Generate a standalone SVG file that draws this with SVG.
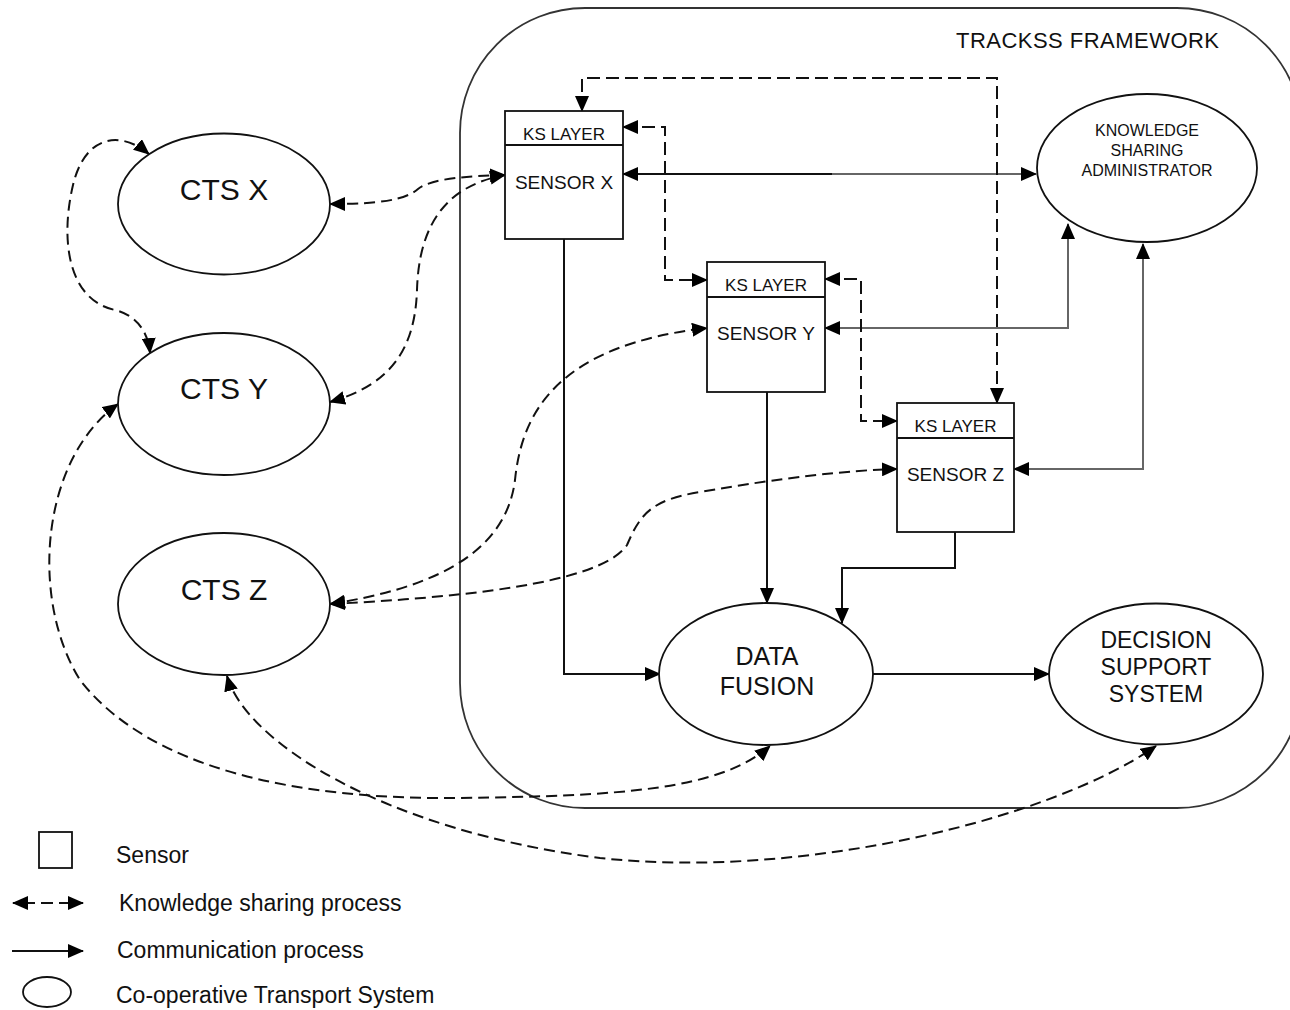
<svg xmlns="http://www.w3.org/2000/svg" width="1290" height="1010" viewBox="0 0 1290 1010">
<defs>
<marker id="ar" viewBox="0 0 16 14" refX="15" refY="7" markerWidth="16" markerHeight="14" markerUnits="userSpaceOnUse" orient="auto-start-reverse"><path d="M0,0 L16,7 L0,14 z" fill="#000"/></marker>
</defs>
<style>
text{font-family:"Liberation Sans",Arial,sans-serif;fill:#111}
.node{fill:#fff;stroke:#111;stroke-width:1.8}
.solid{fill:none;stroke:#111;stroke-width:2}
.grey{fill:none;stroke:#666;stroke-width:2}
.dash{fill:none;stroke:#111;stroke-width:2;stroke-dasharray:13 6}
.dash2{fill:none;stroke:#111;stroke-width:2;stroke-dasharray:11 6}
.both{marker-start:url(#ar);marker-end:url(#ar)}
.end{marker-end:url(#ar)}
.cts{font-size:30px;text-anchor:middle}
.ks{font-size:17px;text-anchor:middle}
.sn{font-size:19px;text-anchor:middle}
.mid{text-anchor:middle}
.leg{font-size:23px}
</style>
<rect width="1290" height="1010" fill="#fff"/>

<g id="framework">
<rect x="460" y="8" width="842" height="800" rx="125" ry="125" fill="none" stroke="#333" stroke-width="1.8"/>
<text x="956" y="48" font-size="22" textLength="263">TRACKSS FRAMEWORK</text>
</g>

<g id="connectors">
<path class="solid" d="M623,174 L832,174" marker-start="url(#ar)"/>
<path class="grey" d="M832,174 L1036,174" marker-end="url(#ar)"/>
<path class="grey both" d="M825,328 L1068,328 L1068,224"/>
<path class="grey both" d="M1014,469 L1143,469 L1143,244"/>
<path class="solid end" d="M564,239 L564,674 L660,674"/>
<path class="solid end" d="M767,392 L767,603"/>
<path class="solid end" d="M955,532 L955,568 L842,568 L842,623"/>
<path class="solid end" d="M873,674 L1049,674"/>
<path class="dash both" d="M582,111 L582,78 L997,78 L997,403"/>
<path class="dash both" d="M623,127 L665,127 L665,280 L707,280"/>
<path class="dash both" d="M825,279 L861,279 L861,421 L897,421"/>
<path class="dash2 both" d="M330,204 C380,204 405,200 418,189 C432,178 470,176 505,175"/>
<path class="dash2 both" d="M330,402 C390,385 415,350 417,290 C419,220 450,185 505,175"/>
<path class="dash2 both" d="M149,154 C120,130 85,135 73,185 C60,240 68,300 115,310 C135,315 148,330 150,353"/>
<path class="dash2 both" d="M118,404 C40,460 30,600 80,680 C150,770 300,800 460,798 C620,796 720,790 770,746"/>
<path class="dash2 both" d="M227,676 C245,740 380,830 600,858 C800,880 1050,820 1156,746"/>
<path class="dash2 both" d="M330,604 C420,590 505,560 515,480 C522,410 560,345 707,328"/>
<path class="dash2 both" d="M330,604 C450,598 600,585 627,545 C640,515 650,500 700,492 C780,478 850,470 897,469"/>
</g>

<g id="cts-x"><ellipse class="node" cx="224" cy="204" rx="106" ry="70.5"/><text class="cts" x="224" y="200">CTS X</text></g>
<g id="cts-y"><ellipse class="node" cx="224" cy="404" rx="106" ry="71"/><text class="cts" x="224" y="399">CTS Y</text></g>
<g id="cts-z"><ellipse class="node" cx="224" cy="604" rx="106" ry="71"/><text class="cts" x="224" y="600">CTS Z</text></g>

<g id="sensor-x"><rect class="node" x="505" y="111" width="118" height="128"/><line x1="505" y1="145" x2="623" y2="145" stroke="#111" stroke-width="1.8"/><text class="ks" x="564" y="140">KS LAYER</text><text class="sn" x="564" y="189">SENSOR X</text></g>
<g id="sensor-y"><rect class="node" x="707" y="262" width="118" height="130"/><line x1="707" y1="297" x2="825" y2="297" stroke="#111" stroke-width="1.8"/><text class="ks" x="766" y="291">KS LAYER</text><text class="sn" x="766" y="340">SENSOR Y</text></g>
<g id="sensor-z"><rect class="node" x="897" y="403" width="117" height="129"/><line x1="897" y1="438" x2="1014" y2="438" stroke="#111" stroke-width="1.8"/><text class="ks" x="955.5" y="432">KS LAYER</text><text class="sn" x="955.5" y="481">SENSOR Z</text></g>

<g id="ksa"><ellipse class="node" cx="1147" cy="168" rx="110" ry="74"/><text class="mid" x="1147" y="136" font-size="16">KNOWLEDGE</text><text class="mid" x="1147" y="156" font-size="16">SHARING</text><text class="mid" x="1147" y="176" font-size="16">ADMINISTRATOR</text></g>
<g id="data-fusion"><ellipse class="node" cx="766" cy="674" rx="107" ry="71"/><text class="mid" x="767" y="665" font-size="25">DATA</text><text class="mid" x="767" y="695" font-size="25">FUSION</text></g>
<g id="dss"><ellipse class="node" cx="1156" cy="674" rx="107" ry="70.5"/><text class="mid" x="1156" y="648" font-size="23">DECISION</text><text class="mid" x="1156" y="675" font-size="23">SUPPORT</text><text class="mid" x="1156" y="702" font-size="23">SYSTEM</text></g>

<g id="legend">
<rect x="39" y="832" width="33" height="36" fill="#fff" stroke="#111" stroke-width="1.8"/>
<text class="leg" x="116" y="863">Sensor</text>
<path d="M13,903 L83,903" fill="none" stroke="#111" stroke-width="2" stroke-dasharray="22 6 12 6 30" marker-start="url(#ar)" marker-end="url(#ar)"/>
<text class="leg" x="119" y="911">Knowledge sharing process</text>
<path d="M12,951 L83,951" fill="none" stroke="#111" stroke-width="2" marker-end="url(#ar)"/>
<text class="leg" x="117" y="958">Communication process</text>
<ellipse cx="47" cy="992" rx="24" ry="15" fill="#fff" stroke="#111" stroke-width="1.8"/>
<text class="leg" x="116" y="1003">Co-operative Transport System</text>
</g>
</svg>
